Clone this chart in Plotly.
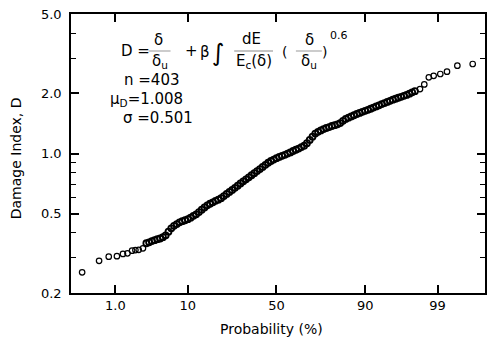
import math
from statistics import NormalDist
import plotly.graph_objects as go

# ---------------- data ----------------
# probability (%) and damage index D, lower tail (sparse points)
low_prob = [0.25, 0.52, 0.77, 1.06, 1.33, 1.57, 1.85, 2.08, 2.33, 2.69]
low_D = [0.254, 0.290, 0.304, 0.306, 0.314, 0.316, 0.326, 0.328, 0.329, 0.335]

# dense central band
band_prob = [3.01, 3.29, 3.59, 3.92, 4.27, 4.65, 5.05, 5.48, 5.94, 6.43,
             6.94, 7.49, 8.08, 8.69, 9.34, 10.03, 10.75, 11.51, 12.30, 13.14,
             14.01, 14.92, 15.87, 16.85, 17.88, 18.94, 20.05, 21.19, 22.36, 23.58,
             24.83, 26.11, 27.43, 28.77, 30.15, 31.56, 33.00, 34.46, 35.94, 37.45,
             38.97, 40.52, 42.07, 43.64, 45.22, 46.81, 48.40, 50.00, 51.60, 53.19,
             54.78, 56.36, 57.93, 59.48, 61.03, 62.55, 64.06, 65.54, 67.00, 68.44,
             69.85, 71.23, 72.57, 73.89, 75.17, 76.42, 77.64, 78.81, 79.95, 81.06,
             82.12, 83.15, 84.13, 85.08, 85.99, 86.86, 87.70, 88.49, 89.25, 89.97,
             90.66, 91.31, 91.92, 92.51, 93.06, 93.57, 94.06, 94.52, 94.95, 95.35,
             95.73, 96.08, 96.41, 96.71, 96.99, 97.26, 97.50, 97.72]
band_D = [0.355, 0.359, 0.364, 0.368, 0.372, 0.375, 0.381, 0.389, 0.406, 0.422,
          0.434, 0.443, 0.452, 0.458, 0.463, 0.469, 0.477, 0.487, 0.496, 0.509,
          0.523, 0.537, 0.550, 0.560, 0.569, 0.579, 0.587, 0.597, 0.612, 0.627,
          0.642, 0.657, 0.673, 0.690, 0.708, 0.725, 0.742, 0.760, 0.778, 0.797,
          0.816, 0.836, 0.857, 0.878, 0.899, 0.917, 0.932, 0.948, 0.961, 0.974,
          0.985, 0.999, 1.012, 1.029, 1.044, 1.058, 1.077, 1.094, 1.127, 1.170,
          1.214, 1.259, 1.284, 1.305, 1.325, 1.342, 1.357, 1.373, 1.387, 1.400,
          1.421, 1.458, 1.490, 1.511, 1.534, 1.555, 1.577, 1.597, 1.617, 1.636,
          1.655, 1.676, 1.698, 1.721, 1.743, 1.768, 1.790, 1.813, 1.836, 1.860,
          1.881, 1.903, 1.923, 1.945, 1.966, 1.993, 2.026, 2.052]

# upper tail (sparse points)
high_prob = [98.09, 98.36, 98.61, 98.84, 99.10, 99.31, 99.55, 99.77]
high_D = [2.104, 2.220, 2.408, 2.450, 2.502, 2.569, 2.754, 2.808]

x_tick_pct = [1, 10, 50, 90, 99]
x_tick_text = ["1.0", "10", "50", "90", "99"]
x_range_pct = [0.15, 99.87]

y_tick_vals = [0.2, 0.5, 1.0, 2.0, 5.0]
y_tick_text = ["0.2", "0.5", "1.0", "2.0", "5.0"]
y_minor_vals = [0.3, 0.4, 0.6, 0.7, 0.8, 0.9, 3.0, 4.0]
y_range = [0.2, 5.0]

# ---------------- figure ----------------
nd = NormalDist()
def zq(p):
    return nd.inv_cdf(p / 100.0)

FONT = "DejaVu Sans"
L, R, T, B = 71, 1, 14, 45
WIDTH, HEIGHT = 488, 338
W = WIDTH - L - R
H = HEIGHT - T - B

xr = [zq(x_range_pct[0]), zq(x_range_pct[1])]
yr = [math.log10(y_range[0]), math.log10(y_range[1])]

def px(x):
    return (x - L) / W

def py(y):
    return (T + H - y) / H

fig = go.Figure()
fig.add_trace(go.Scatter(
    x=[zq(p) for p in band_prob], y=band_D, mode="markers",
    marker=dict(symbol="circle-open", size=6, color="black",
                line=dict(width=1.8, color="black")),
    hoverinfo="skip", showlegend=False))
fig.add_trace(go.Scatter(
    x=[zq(p) for p in low_prob + high_prob], y=low_D + high_D, mode="markers",
    marker=dict(symbol="circle-open", size=5.5, color="black",
                line=dict(width=1.2, color="black")),
    hoverinfo="skip", showlegend=False))

ann = []
def text(x, y, s, size=15, anchor="center"):
    ann.append(dict(x=px(x), y=py(y), xref="paper", yref="paper", text=s,
                    showarrow=False, xanchor=anchor, yanchor="middle",
                    font=dict(family=FONT, size=size, color="black")))

shapes = []
def bar(x0, x1, y):
    shapes.append(dict(type="line", xref="paper", yref="paper",
                       x0=px(x0), x1=px(x1), y0=py(y), y1=py(y),
                       line=dict(color="black", width=1.3)))

# formula
text(119, 51, "D =", 15, "left")
text(159, 40, "δ", 15)
bar(149, 171, 51)
text(160, 62, "δ<sub>u</sub>", 15)
text(192, 51, "+", 15)
text(206, 52, "β", 15)
text(219, 53, "∫", 24)
text(252, 39, "dE", 15)
bar(235, 274, 51)
text(255, 62, "E<sub>c</sub>(δ)", 15)
text(286, 52, "(", 14)
text(311, 40, "δ", 15)
bar(297, 323, 51)
text(310, 62, "δ<sub>u</sub>", 15)
text(326, 52, ")", 14)
text(340, 35, "0.6", 11)
text(122, 80, "n =403", 15, "left")
text(108, 99, "μ<sub>D</sub>=1.008", 15, "left")
text(121, 118, "σ =0.501", 15, "left")

# axis titles
text(272, 329, "Probability (%)", 14)
ann.append(dict(x=px(16), y=py(158), xref="paper", yref="paper",
                text="Damage Index, D", showarrow=False, textangle=-90,
                xanchor="center", yanchor="middle",
                font=dict(family=FONT, size=14, color="black")))

fig.update_layout(
    template="simple_white",
    width=WIDTH, height=HEIGHT,
    margin=dict(l=L, r=R, t=T, b=B, pad=0),
    paper_bgcolor="white", plot_bgcolor="white",
    font=dict(family=FONT, size=13, color="black"),
    annotations=ann, shapes=shapes,
    xaxis=dict(
        range=xr, tickmode="array",
        tickvals=[zq(p) for p in x_tick_pct], ticktext=x_tick_text,
        ticks="inside", ticklen=8, tickwidth=1.8, tickcolor="black",
        showline=True, linecolor="black", linewidth=1.5, mirror="ticks",
        showgrid=False, zeroline=False,
        tickfont=dict(family=FONT, size=13, color="black")),
    yaxis=dict(
        type="log", range=yr, tickmode="array",
        tickvals=y_tick_vals, ticktext=y_tick_text,
        ticks="inside", ticklen=8, tickwidth=1.8, tickcolor="black",
        minor=dict(tickmode="array", tickvals=y_minor_vals, ticks="inside",
                   ticklen=5, tickwidth=1.4, tickcolor="black", showgrid=False),
        ticklabelstandoff=5,
        showline=True, linecolor="black", linewidth=1.5, mirror="ticks",
        showgrid=False, zeroline=False,
        tickfont=dict(family=FONT, size=13, color="black")),
)

fig.write_html("out.html")
